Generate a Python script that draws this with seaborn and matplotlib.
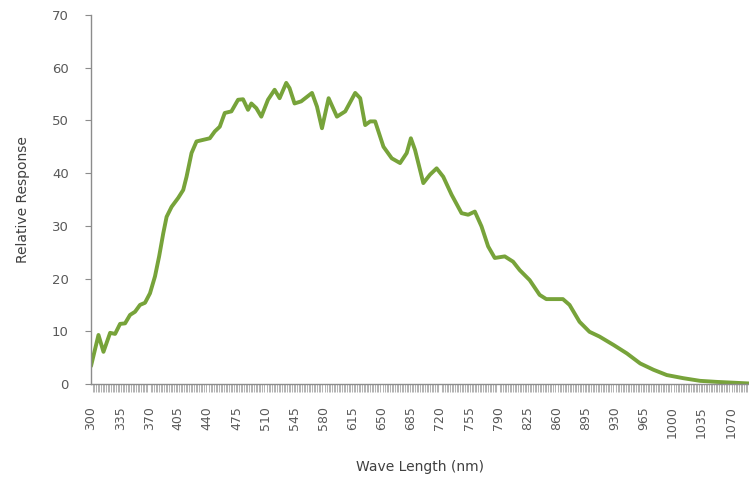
import numpy as np
import pandas as pd
import matplotlib
matplotlib.use("Agg")
import matplotlib.pyplot as plt
from matplotlib.ticker import MultipleLocator
import seaborn as sns

# Spectral response
wavelength = [300, 309, 315, 323, 329, 335, 341, 347, 353, 359, 365, 371, 377,
              382, 387, 391, 397, 405, 411, 415, 421, 427, 435, 443, 449, 455,
              461, 469, 477, 483, 489, 493, 499, 505, 513, 521, 527, 535, 539,
              545, 553, 566, 572, 578, 586, 596, 606, 618, 624, 630, 636, 642,
              652, 662, 672, 680, 685, 690, 700, 708, 716, 724, 734, 746, 754,
              762, 770, 778, 786, 798, 808, 816, 828, 840, 848, 868, 876, 888,
              900, 912, 929, 945, 961, 977, 993, 1013, 1033, 1053, 1073, 1092]
response = [3.4, 9.3, 6.1, 9.7, 9.5, 11.4, 11.5, 13.1, 13.7, 15.0, 15.4, 17.2,
            20.4, 24.2, 28.6, 31.7, 33.6, 35.3, 36.8, 39.3, 43.8, 46.0, 46.3,
            46.6, 47.9, 48.8, 51.4, 51.7, 53.9, 54.0, 52.0, 53.2, 52.3, 50.7,
            53.9, 55.8, 54.2, 57.1, 56.1, 53.2, 53.6, 55.2, 52.6, 48.5, 54.2,
            50.7, 51.7, 55.2, 54.2, 49.1, 49.8, 49.8, 45.0, 42.8, 41.9, 43.8,
            46.6, 44.4, 38.1, 39.7, 40.9, 39.3, 35.9, 32.4, 32.1, 32.7, 29.9,
            26.1, 23.9, 24.2, 23.2, 21.6, 19.7, 16.9, 16.1, 16.1, 15.0, 11.8,
            9.9, 9.0, 7.4, 5.8, 3.9, 2.7, 1.7, 1.1, 0.6, 0.4, 0.25, 0.1]

x_labels = list(range(300, 1071, 35))

df = pd.DataFrame({"wavelength": wavelength, "response": response})

sns.set_style("white")
plt.rcParams['font.family'] = ['DejaVu Sans']

fig = plt.figure(figsize=(7.49, 4.80), dpi=100)
ax = fig.add_axes([0.1215, 0.2, 0.8785, 0.769])

sns.lineplot(data=df, x="wavelength", y="response", ax=ax,
             color="#77a33a", linewidth=2.8)

ax.set_xlim(300, 1092)
ax.set_ylim(0, 70)
ax.set_xticks(x_labels)
ax.set_xticklabels([str(v) for v in x_labels], rotation=90)
ax.xaxis.set_minor_locator(MultipleLocator(2))
ax.set_yticks(range(0, 71, 10))

axis_gray = "#8c8c8c"
text_gray = "#595959"
ax.tick_params(axis="x", which="major", length=6, width=0.8, color=axis_gray,
               labelsize=9, labelcolor=text_gray, pad=10)
ax.tick_params(axis="x", which="minor", length=6, width=0.6, color="#a6a6a6",
               bottom=True)
ax.tick_params(axis="y", length=4, width=0.8, color=axis_gray,
               labelsize=9.5, labelcolor=text_gray, pad=12, left=True)

for side in ["top", "right"]:
    ax.spines[side].set_visible(False)
for side in ["left", "bottom"]:
    ax.spines[side].set_color(axis_gray)
    ax.spines[side].set_linewidth(1.0)

ax.set_xlabel("Wave Length (nm)", fontsize=10, color="#404040", labelpad=16)
ax.set_ylabel("Relative Response", fontsize=10, color="#404040", labelpad=16)

fig.savefig("out.png", dpi=100)
